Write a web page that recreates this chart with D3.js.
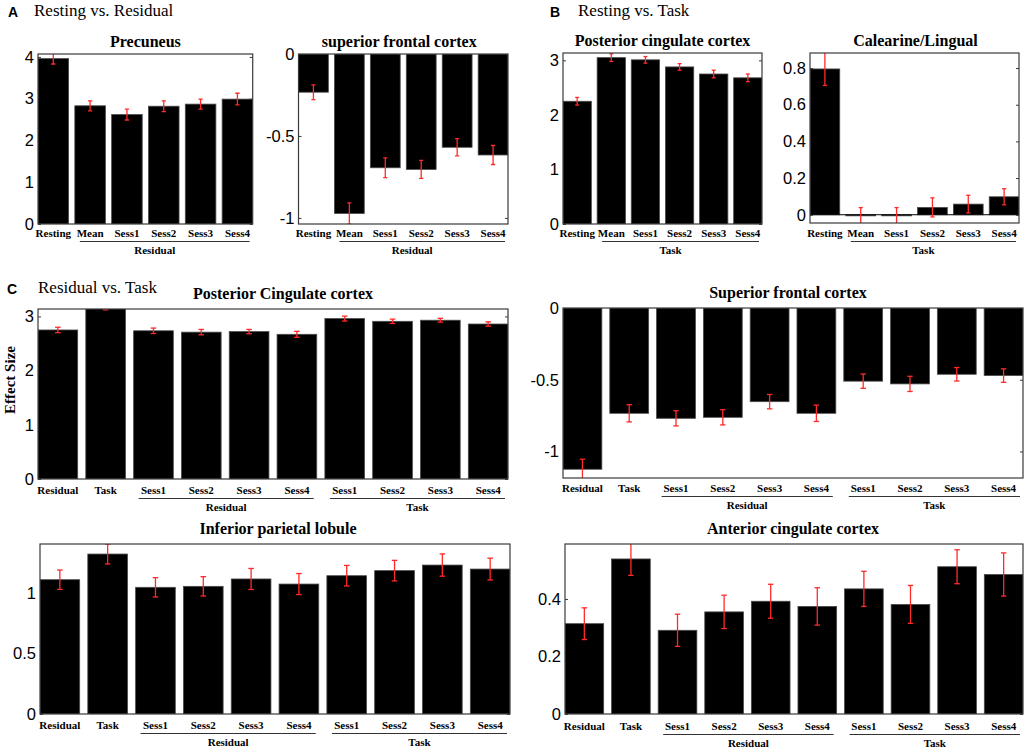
<!DOCTYPE html>
<html>
<head>
<meta charset="utf-8">
<script src="https://cdn.jsdelivr.net/npm/d3@7"></script>
<style>
body { margin: 0; background: #fff; }
svg { display: block; }
</style>
</head>
<body>
<div class="fig"></div>
<script>
/*---------------------------DATA--------------------------*/
var catsAB = ['Resting', 'Mean', 'Sess1', 'Sess2', 'Sess3', 'Sess4'];
var catsC = ['Residual', 'Task', 'Sess1', 'Sess2', 'Sess3', 'Sess4', 'Sess1', 'Sess2', 'Sess3', 'Sess4'];

var groupsA = [{label: 'Residual', from: 1, to: 5}];
var groupsB = [{label: 'Task', from: 1, to: 5}];
var groupsC = [{label: 'Residual', from: 2, to: 5}, {label: 'Task', from: 6, to: 9}];

// A: Resting vs. Residual
var precuneusVal = [3.96, 2.83, 2.62, 2.82, 2.87, 2.99];
var precuneusErr = [0.13, 0.12, 0.13, 0.13, 0.12, 0.14];
var sfcRestVal = [-0.233, -0.973, -0.694, -0.704, -0.569, -0.616];
var sfcRestErr = [0.045, 0.065, 0.06, 0.055, 0.053, 0.058];

// B: Resting vs. Task
var pccTaskVal = [2.25, 3.05, 3.01, 2.88, 2.75, 2.68];
var pccTaskErr = [0.07, 0.07, 0.06, 0.06, 0.07, 0.07];
var calcVal = [0.795, -0.006, -0.006, 0.04, 0.058, 0.098];
var calcErr = [0.09, 0.045, 0.045, 0.052, 0.048, 0.044];

// C: Residual vs. Task
var pccVal = [2.75, 3.17, 2.735, 2.71, 2.72, 2.67, 2.96, 2.91, 2.93, 2.86];
var pccErr = [0.05, 0.05, 0.05, 0.05, 0.04, 0.055, 0.045, 0.04, 0.035, 0.04];
var sfcVal = [-1.124, -0.734, -0.769, -0.762, -0.653, -0.734, -0.51, -0.529, -0.462, -0.471];
var sfcErr = [0.07, 0.06, 0.053, 0.053, 0.05, 0.057, 0.05, 0.053, 0.047, 0.047];
var iplVal = [1.11, 1.322, 1.047, 1.055, 1.116, 1.074, 1.143, 1.185, 1.231, 1.198];
var iplErr = [0.08, 0.082, 0.08, 0.08, 0.087, 0.087, 0.085, 0.085, 0.092, 0.09];
var accVal = [0.314, 0.539, 0.291, 0.355, 0.392, 0.374, 0.435, 0.381, 0.512, 0.485];
var accErr = [0.055, 0.057, 0.056, 0.058, 0.059, 0.065, 0.061, 0.066, 0.059, 0.075];

// y tick labels
var ticksPrecuneus = [0, 1, 2, 3, 4];
var ticksSfcRest = [0, -0.5, -1];
var ticksPccTask = [0, 1, 2, 3];
var ticksCalc = [0, 0.2, 0.4, 0.6, 0.8];
var ticksPcc = [0, 1, 2, 3];
var ticksSfc = [0, -0.5, -1];
var ticksIpl = [0, 0.5, 1];
var ticksAcc = [0, 0.2, 0.4];

/*---------------------------LAYOUT--------------------------*/
var w = 1028;
var h = 752;
var serif = "'Liberation Serif', 'Times New Roman', serif";
var sans = "'Liberation Sans', Arial, sans-serif";
var boxColor = '#3a3a3a';
var errColor = '#ff2a2a';

var panels = [
	{title: 'Precuneus', cats: catsAB, vals: precuneusVal, errs: precuneusErr, ticks: ticksPrecuneus,
		ylim: [0, 4.07], x0: 38, x1: 252.7, y0: 54, y1: 224, groups: groupsA, titleDx: 0, labelDy: 13, groupDx: -10},
	{title: 'superior frontal cortex', cats: catsAB, vals: sfcRestVal, errs: sfcRestErr, ticks: ticksSfcRest,
		ylim: [-1.037, 0], x0: 298.5, x1: 508, y0: 54, y1: 224, groups: groupsA, titleDx: -4, labelDy: 13, groupDx: -10},
	{title: 'Posterior cingulate cortex', cats: catsAB, vals: pccTaskVal, errs: pccTaskErr, ticks: ticksPccTask,
		ylim: [0, 3.135], x0: 563, x1: 762, y0: 53, y1: 224, groups: groupsB, titleDx: 0, labelDy: 13, groupDx: -10},
	{title: 'Calearine/Lingual', cats: catsAB, vals: calcVal, errs: calcErr, ticks: ticksCalc,
		ylim: [-0.045, 0.882], x0: 810, x1: 1019, y0: 53, y1: 223, groups: groupsB, titleDx: 1, labelDy: 14, groupDx: -10},
	{title: 'Posterior Cingulate cortex', cats: catsC, vals: pccVal, errs: pccErr, ticks: ticksPcc,
		ylim: [0, 3.137], x0: 38, x1: 508, y0: 309, y1: 479, groups: groupsC, titleDx: 10, labelDy: 15, groupDx: 0, ylabel: 'Effect Size'},
	{title: 'Superior frontal cortex', cats: catsC, vals: sfcVal, errs: sfcErr, ticks: ticksSfc,
		ylim: [-1.185, 0], x0: 563, x1: 1023, y0: 308, y1: 478, groups: groupsC, titleDx: -5, labelDy: 14, groupDx: 0},
	{title: 'Inferior parietal lobule', cats: catsC, vals: iplVal, errs: iplErr, ticks: ticksIpl,
		ylim: [0, 1.405], x0: 40, x1: 510, y0: 544, y1: 714, groups: groupsC, titleDx: 3, labelDy: 15, groupDx: 0},
	{title: 'Anterior cingulate cortex', cats: catsC, vals: accVal, errs: accErr, ticks: ticksAcc,
		ylim: [0, 0.591], x0: 565, x1: 1023, y0: 544, y1: 714, groups: groupsC, titleDx: -1, labelDy: 16, groupDx: 0}
];

var headers = [
	{letter: 'A', text: 'Resting vs. Residual', lx: 8, tx: 34, y: 16},
	{letter: 'B', text: 'Resting vs. Task', lx: 550, tx: 578, y: 16},
	{letter: 'C', text: 'Residual vs. Task', lx: 7, tx: 38, y: 293}
];

var svg = d3.select('.fig').append('svg')
	.attr('width', w)
	.attr('height', h);

/*---------------------------HEADERS--------------------------*/
headers.forEach(function(hd) {
	svg.append('text')
		.attr('x', hd.lx)
		.attr('y', hd.y + 1)
		.style('font-family', sans)
		.style('font-weight', 'bold')
		.style('font-size', '14px')
		.text(hd.letter);
	svg.append('text')
		.attr('x', hd.tx)
		.attr('y', hd.y)
		.style('font-family', serif)
		.style('font-size', '17px')
		.text(hd.text);
});

/*---------------------------PANELS--------------------------*/
var drawPanel = function(p, k) {
	var g = svg.append('g');
	var n = p.cats.length;

	var x = d3.scaleBand()
		.domain(d3.range(n))
		.range([p.x0, p.x1])
		.paddingInner(0.17)
		.paddingOuter(0);

	var y = d3.scaleLinear()
		.domain(p.ylim)
		.range([p.y1, p.y0]);

	var bw = x.bandwidth();

	g.append('clipPath')
		.attr('id', 'clip' + k)
		.append('rect')
		.attr('x', p.x0)
		.attr('y', p.y0)
		.attr('width', p.x1 - p.x0)
		.attr('height', p.y1 - p.y0);

	// inward ticks, left with labels and right without
	var left = g.append('g')
		.attr('transform', 'translate(' + p.x0 + ',0)')
		.call(d3.axisLeft(y).tickValues(p.ticks).tickSizeInner(-3).tickSizeOuter(0)
			.tickPadding(4).tickFormat(function(d) { return String(d); }));
	left.select('.domain').remove();
	left.selectAll('line').attr('stroke', boxColor);
	left.selectAll('text')
		.style('font-family', sans)
		.style('font-size', '16.5px')
		.attr('fill', '#000');

	var right = g.append('g')
		.attr('transform', 'translate(' + p.x1 + ',0)')
		.call(d3.axisRight(y).tickValues(p.ticks).tickSizeInner(-3).tickSizeOuter(0).tickFormat(''));
	right.select('.domain').remove();
	right.selectAll('line').attr('stroke', boxColor);

	var plot = g.append('g').attr('clip-path', 'url(#clip' + k + ')');

	plot.selectAll('.bar')
		.data(p.vals)
		.enter()
		.append('rect')
		.attr('class', 'bar')
		.attr('x', function(d, i) { return x(i); })
		.attr('y', function(d) { return y(Math.max(0, d)); })
		.attr('width', bw)
		.attr('height', function(d) { return Math.abs(y(d) - y(0)); })
		.attr('fill', '#000')
		.attr('stroke', '#4a4a4a')
		.attr('stroke-width', 0.8);

	// bar baseline at zero
	if (p.ylim[0] < 0 && p.ylim[1] > 0) {
		plot.append('line')
			.attr('x1', p.x0)
			.attr('x2', p.x1)
			.attr('y1', y(0))
			.attr('y2', y(0))
			.attr('stroke', '#000')
			.attr('stroke-width', 1);
	}

	// error bars
	var cap = bw * 0.07;
	var err = plot.selectAll('.err')
		.data(p.vals)
		.enter()
		.append('g')
		.attr('class', 'err')
		.attr('stroke', errColor)
		.attr('stroke-width', 1.3);

	err.append('line')
		.attr('x1', function(d, i) { return x(i) + bw / 2; })
		.attr('x2', function(d, i) { return x(i) + bw / 2; })
		.attr('y1', function(d, i) { return y(d + p.errs[i]); })
		.attr('y2', function(d, i) { return y(d - p.errs[i]); });

	err.append('line')
		.attr('x1', function(d, i) { return x(i) + bw / 2 - cap; })
		.attr('x2', function(d, i) { return x(i) + bw / 2 + cap; })
		.attr('y1', function(d, i) { return y(d + p.errs[i]); })
		.attr('y2', function(d, i) { return y(d + p.errs[i]); });

	err.append('line')
		.attr('x1', function(d, i) { return x(i) + bw / 2 - cap; })
		.attr('x2', function(d, i) { return x(i) + bw / 2 + cap; })
		.attr('y1', function(d, i) { return y(d - p.errs[i]); })
		.attr('y2', function(d, i) { return y(d - p.errs[i]); });

	// axes box
	g.append('rect')
		.attr('x', p.x0)
		.attr('y', p.y0)
		.attr('width', p.x1 - p.x0)
		.attr('height', p.y1 - p.y0)
		.attr('fill', 'none')
		.attr('stroke', boxColor)
		.attr('stroke-width', 1.2);

	// category labels
	var bottom = g.append('g')
		.attr('transform', 'translate(0,' + p.y1 + ')')
		.call(d3.axisBottom(x).tickSize(0).tickFormat(function(i) { return p.cats[i]; }));
	bottom.select('.domain').remove();
	bottom.selectAll('text')
		.attr('y', p.labelDy)
		.attr('dy', null)
		.attr('fill', '#000')
		.style('font-family', serif)
		.style('font-weight', 'bold')
		.style('font-size', '11px');

	// group underlines and labels
	p.groups.forEach(function(gr) {
		var gx0 = x(gr.from) + 5;
		var gx1 = x(gr.to) + bw - 3;
		g.append('line')
			.attr('x1', gx0)
			.attr('x2', gx1)
			.attr('y1', p.y1 + p.labelDy + 4.5)
			.attr('y2', p.y1 + p.labelDy + 4.5)
			.attr('stroke', '#333')
			.attr('stroke-width', 1);
		g.append('text')
			.attr('x', (gx0 + gx1) / 2 + p.groupDx)
			.attr('y', p.y1 + p.labelDy + 17)
			.attr('text-anchor', 'middle')
			.style('font-family', serif)
			.style('font-weight', 'bold')
			.style('font-size', '11px')
			.text(gr.label);
	});

	// title
	g.append('text')
		.attr('x', (p.x0 + p.x1) / 2 + p.titleDx)
		.attr('y', p.y0 - (n > 6 ? 10 : 7))
		.attr('text-anchor', 'middle')
		.style('font-family', serif)
		.style('font-weight', 'bold')
		.style('font-size', '16px')
		.text(p.title);

	if (p.ylabel) {
		g.append('text')
			.attr('transform', 'translate(14.5,380) rotate(-90)')
			.attr('text-anchor', 'middle')
			.style('font-family', serif)
			.style('font-weight', 'bold')
			.style('font-size', '15px')
			.text(p.ylabel);
	}
};

panels.forEach(drawPanel);
</script>
</body>
</html>
